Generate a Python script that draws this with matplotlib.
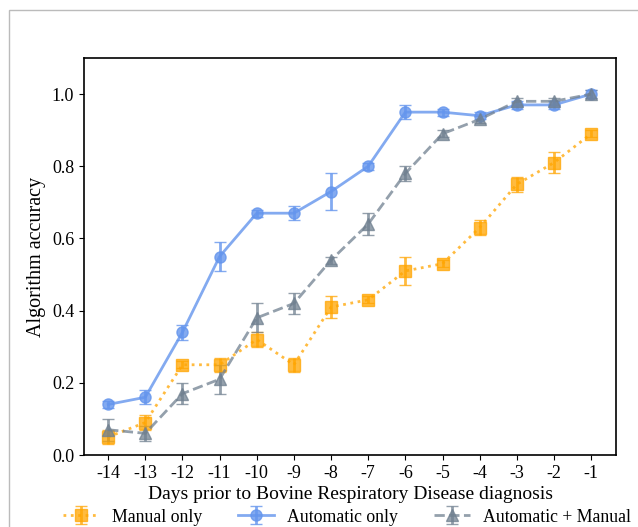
import matplotlib
matplotlib.use('Agg')
import matplotlib.pyplot as plt
from matplotlib.patches import Rectangle

plt.rcParams['font.family'] = ['Liberation Serif', 'DejaVu Serif']

days = [-14, -13, -12, -11, -10, -9, -8, -7, -6, -5, -4, -3, -2, -1]

manual = [0.05, 0.09, 0.25, 0.25, 0.32, 0.25, 0.41, 0.43, 0.51, 0.53, 0.63, 0.75, 0.81, 0.89]
manual_err = [0.02, 0.02, 0.01, 0.02, 0.02, 0.02, 0.03, 0.01, 0.04, 0.01, 0.02, 0.02, 0.03, 0.01]

auto = [0.14, 0.16, 0.34, 0.55, 0.67, 0.67, 0.73, 0.80, 0.95, 0.95, 0.94, 0.97, 0.97, 1.00]
auto_err = [0.01, 0.02, 0.02, 0.04, 0.01, 0.02, 0.05, 0.01, 0.02, 0.01, 0.01, 0.01, 0.01, 0.01]

both = [0.07, 0.06, 0.17, 0.21, 0.38, 0.42, 0.54, 0.64, 0.78, 0.89, 0.93, 0.98, 0.98, 1.00]
both_err = [0.03, 0.02, 0.03, 0.04, 0.04, 0.03, 0.01, 0.03, 0.02, 0.01, 0.01, 0.01, 0.01, 0.01]

fig = plt.figure(figsize=(6.38, 5.27), dpi=100)
# thin grey frame (top and left visible)
fig.patches.append(Rectangle((9/638, -0.1), 1.2, 1 - 10/527 + 0.1, transform=fig.transFigure,
                             fill=False, edgecolor='#bbbbbb', linewidth=1))
ax = fig.add_axes([84/638, 1 - 455/527, (616-84)/638, (455-58)/527])

ax.errorbar(days, manual, yerr=manual_err, color='orange', alpha=0.75, marker='s', markersize=8,
            linestyle=':', linewidth=2, capsize=4, label='Manual only')
ax.errorbar(days, auto, yerr=auto_err, color='cornflowerblue', alpha=0.8, marker='o', markersize=8,
            linestyle='-', linewidth=2, capsize=4, label='Automatic only')
ax.errorbar(days, both, yerr=both_err, color='slategray', alpha=0.75, marker='^', markersize=8,
            linestyle='--', linewidth=2, capsize=4, label='Automatic + Manual')

ax.set_xlim(-14.65, -0.33)
ax.set_ylim(0, 1.1)
ax.set_xticks(days)
ax.set_xticklabels([str(d) for d in days])
ax.set_yticks([0.0, 0.2, 0.4, 0.6, 0.8, 1.0])
ax.tick_params(labelsize=13)
ax.set_xlabel('Days prior to Bovine Respiratory Disease diagnosis', fontsize=14, labelpad=3)
ax.set_ylabel('Algorithm accuracy', fontsize=14.5)
for s in ax.spines.values():
    s.set_linewidth(1.2)

ax.legend(loc='center left', bbox_to_anchor=((63-84)/532, (455-517)/397), ncol=3, frameon=False,
          fontsize=12.8, handlelength=2.05, handletextpad=0.72, columnspacing=2.0,
          borderaxespad=0, borderpad=0)

fig.savefig('out.png', dpi=100)
